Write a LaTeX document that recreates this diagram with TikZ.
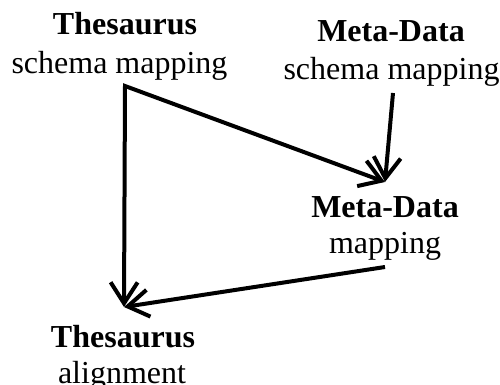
\documentclass[tikz,border=0pt]{standalone}
\usepackage{fontspec}
\setmainfont{Liberation Serif}
\usetikzlibrary{arrows.meta}
\begin{document}
\begin{tikzpicture}[x=1pt,y=-1pt,
  lbl/.style={anchor=base,inner sep=0pt,font=\fontsize{32}{38}\selectfont},
  head/.style={lbl,font=\fontsize{32}{38}\selectfont\bfseries},
  barb/.tip={Straight Barb[length=21pt,width=27pt]},
  link/.style={line width=4pt,miter limit=10}]
\useasboundingbox (0,0) rectangle (500,385);
\clip (0,0) rectangle (500,385);
% labels
\node[head] (tsH) at (125,35) {Thesaurus};
\node[lbl]  (tsL) at (119.5,74) {schema mapping};
\node[head] (msH) at (391,42) {Meta-Data};
\node[lbl]  (msL) at (391.5,80) {schema mapping};
\node[head] (mmH) at (385,217) {Meta-Data};
\node[lbl]  (mmL) at (385,253) {mapping};
\node[head] (taH) at (123,347) {Thesaurus};
\node[lbl]  (taL) at (122,383) {alignment};
% arrow end points
\coordinate (corner) at (125,86);
\coordinate (taTip) at (124,307);
\coordinate (mmTip) at (385,182);
\coordinate (msOut) at (393,93);
\coordinate (mmOut) at (385,267);
% connectors
\draw[link,{barb}-{barb}] (taTip) -- (corner) -- (mmTip);
\draw[link,-{barb}] (msOut) -- (mmTip);
\draw[link,-{barb}] (mmOut) -- (taTip);
\end{tikzpicture}
\end{document}
